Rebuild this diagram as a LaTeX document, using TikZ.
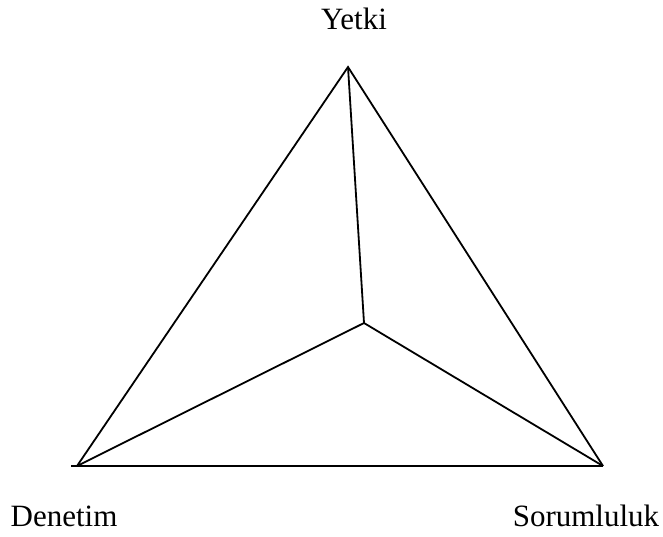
\documentclass[tikz,border=0pt]{standalone}
\usepackage{fontspec}
\setmainfont{Liberation Serif}
\usepackage{tikz}

\tikzset{
    kose/.style={font=\fontsize{31}{36}\selectfont, anchor=base, inner sep=0pt},
    kenar/.style={line width=1.8pt, line join=miter}
}

\begin{document}
\begin{tikzpicture}[x=1pt, y=-1pt]
    \useasboundingbox (0,0) rectangle (663,536);

    % corners and centre
    \coordinate (yetki) at (348,67);
    \coordinate (denetim) at (77,466);
    \coordinate (sorumluluk) at (603,466);
    \coordinate (merkez) at (364,323);
    \coordinate (taban) at (71,466);

    % outer triangle
    \draw[kenar] (denetim) -- (yetki) -- (sorumluluk);
    \draw[kenar] (taban) -- (sorumluluk);

    % lines to the centre
    \draw[kenar] (yetki) -- (merkez);
    \draw[kenar] (denetim) -- (merkez) -- (sorumluluk);

    % labels
    \node[kose] (yetkiad) at (354,29) {Yetki};
    \node[kose] (denetimad) at (64,526) {Denetim};
    \node[kose] (sorumlulukad) at (586,526) {Sorumluluk};
\end{tikzpicture}
\end{document}
